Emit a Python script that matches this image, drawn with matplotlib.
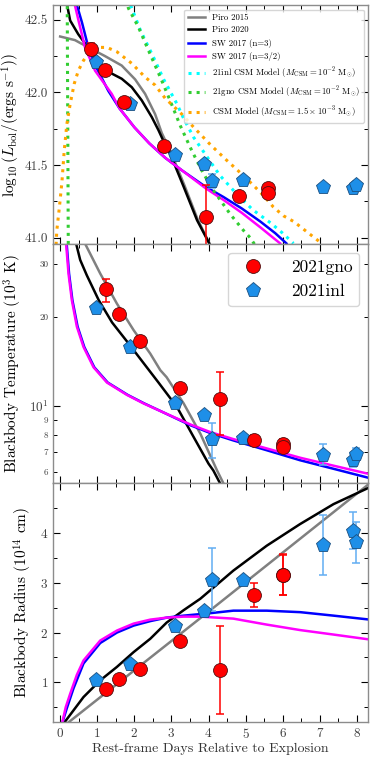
# import packages
import matplotlib
matplotlib.use("Agg")
import matplotlib.pyplot as plt
from matplotlib.ticker import FixedLocator, FixedFormatter, MultipleLocator, FormatStrFormatter

plt.rcParams["font.family"] = "serif"
plt.rcParams["font.serif"] = ["cmr10"]
plt.rcParams["mathtext.fontset"] = "cm"
plt.rcParams["axes.formatter.use_mathtext"] = True
plt.rcParams["axes.unicode_minus"] = False

# ---- observed data: SN 2021gno (red circles) ----
gno_days_lum = [0.84, 1.20, 1.73, 2.81, 3.92, 4.81, 5.60, 5.60]
gno_logL = [42.30, 42.155, 41.935, 41.628, 41.14, 41.284, 41.34, 41.31]
gno_logL_err = [0.04, 0.02, 0.02, 0.02, 0.22, 0.02, 0.02, 0.02]

gno_days = [1.24, 1.59, 2.15, 3.22, 4.31, 5.23, 6.00, 6.00]
gno_T = [24.7, 20.4, 16.6, 11.5, 10.56, 7.71, 7.45, 7.30]
gno_T_lo = [2.3, 0.3, 0.6, 0.3, 2.6, 0.2, 0.15, 0.15]
gno_T_hi = [2.0, 0.3, 0.6, 0.3, 2.5, 0.25, 0.3, 0.2]
gno_R = [0.874, 1.074, 1.26, 1.84, 1.25, 2.757, 3.165, 3.15]
gno_R_err = [0.03, 0.04, 0.05, 0.04, 0.89, 0.24, 0.41, 0.40]

# ---- observed data: SN 2021inl (blue pentagons) ----
inl_days = [0.97, 1.87, 3.10, 3.89, 4.10, 4.93, 7.08, 7.89, 7.98]
inl_logL = [42.21, 41.92, 41.566, 41.509, 41.39, 41.394, 41.35, 41.34, 41.36]
inl_logL_err = [0.01, 0.01, 0.01, 0.01, 0.05, 0.01, 0.01, 0.01, 0.01]
inl_T = [21.3, 15.8, 10.2, 9.36, 7.73, 7.83, 6.82, 6.56, 6.92]
inl_T_lo = [0.3, 0.2, 0.2, 0.2, 1.03, 0.2, 0.5, 0.3, 0.3]
inl_T_hi = [0.3, 0.2, 0.2, 0.2, 1.06, 0.2, 0.65, 0.35, 0.32]
inl_R = [1.054, 1.375, 2.13, 2.43, 3.06, 3.06, 3.76, 4.05, 3.81]
inl_R_err = [0.03, 0.03, 0.04, 0.05, 0.63, 0.05, 0.60, 0.38, 0.42]

# ---- model curves, luminosity panel ----
piro15_L_days = [0.0, 0.40, 0.76, 1.21, 1.66, 2.02, 2.29, 2.56, 2.74, 3.0, 3.35, 3.7, 4.04, 4.1]
piro15_L = [42.385, 42.36, 42.31, 42.25, 42.185, 42.09, 41.99, 41.85, 41.72, 41.58, 41.36, 41.13, 40.95, 40.9]
piro20_L_days = [0.15, 0.27, 0.49, 0.72, 1.03, 1.39, 1.66, 1.93, 2.20, 2.47, 2.65, 2.83, 2.965, 3.33, 3.69, 4.02, 4.08]
piro20_L = [42.65, 42.495, 42.40, 42.32, 42.20, 42.13, 42.094, 42.036, 41.945, 41.83, 41.74, 41.64, 41.578, 41.35, 41.12, 40.96, 40.9]
sw3_L_days = [0.43, 0.59, 0.76, 1.0, 1.3, 1.6, 2.0, 2.4, 2.83, 3.3, 3.92, 4.4, 4.9, 5.4, 5.8, 6.1]
sw3_L = [42.62, 42.48, 42.31, 42.16, 42.01, 41.89, 41.76, 41.65, 41.55, 41.46, 41.35, 41.28, 41.20, 41.11, 41.03, 40.96]
sw32_L_days = [0.38, 0.49, 0.67, 0.94, 1.39, 1.6, 2.0, 2.4, 2.83, 3.3, 3.92, 4.4, 4.9, 5.4, 5.93]
sw32_L = [42.62, 42.50, 42.31, 42.15, 41.99, 41.89, 41.76, 41.65, 41.55, 41.46, 41.34, 41.26, 41.17, 41.07, 40.96]
csm_inl_days = [1.90, 2.16, 2.52, 2.79, 3.15, 3.33, 3.6, 3.87, 4.3, 4.76, 5.2, 5.68, 6.0, 6.29]
csm_inl_L = [42.6, 42.43, 42.24, 42.09, 41.92, 41.82, 41.69, 41.59, 41.43, 41.30, 41.19, 41.10, 41.03, 40.96]
csm_gno_days = [0.22, 0.19, 0.6, 1.5, 1.84, 2.11, 2.38, 2.70, 2.97, 3.24, 3.51, 3.78, 4.09, 4.59, 4.94, 5.12, 5.25]
csm_gno_L = [40.9, 42.65, 43.5, 43.0, 42.58, 42.45, 42.29, 42.105, 41.94, 41.77, 41.62, 41.48, 41.34, 41.16, 41.05, 41.0, 40.95]
csm_days = [-0.11, -0.09, -0.02, 0.05, 0.11, 0.18, 0.27, 0.38, 0.49, 0.63, 0.80, 1.0, 1.26, 1.53,
            1.93, 2.29, 2.56, 2.83, 3.28, 3.6, 4.05, 4.5, 4.8, 5.21, 5.48, 5.75, 6.02, 6.3, 6.6, 7.05]
csm_L = [40.95, 41.05, 41.21, 41.39, 41.6, 41.78, 41.92, 42.06, 42.15, 42.22, 42.28, 42.31, 42.31, 42.28,
         42.20, 42.105, 42.05, 41.96, 41.85, 41.76, 41.64, 41.53, 41.46, 41.36, 41.29, 41.21, 41.15, 41.11, 41.05, 40.96]

# ---- model curves, temperature panel ----
piro15_T_days = [0.4, 0.67, 1.08, 1.53, 1.98, 2.43, 2.70, 2.87, 3.33, 3.78, 4.23, 4.40, 4.45]
piro15_T = [42, 35.2, 27.9, 22.1, 18.0, 15.0, 13.2, 12.5, 10.2, 8.07, 6.07, 5.5, 5.3]
piro20_T_days = [0.30, 0.43, 0.54, 0.72, 1.04, 1.40, 1.80, 2.20, 2.65, 3.15, 3.60, 4.0, 4.13, 4.31, 4.36]
piro20_T = [42, 35.2, 31, 27.5, 22.7, 19.1, 16.5, 14.2, 12.0, 9.92, 7.86, 6.40, 6.07, 5.5, 5.3]
sw3_T_days = [0.12, 0.175, 0.24, 0.33, 0.47, 0.65, 0.92, 1.28, 1.82, 2.27, 2.72, 3.51, 4.05, 4.67, 5.57, 6.47, 7.37, 8.35]
sw3_T = [45, 35.2, 27.9, 22.7, 18.5, 15.8, 13.5, 12.0, 10.9, 10.2, 9.6, 8.62, 8.11, 7.66, 7.10, 6.57, 6.15, 5.72]
sw32_T_days = [0.10, 0.16, 0.225, 0.315, 0.45, 0.63, 0.90, 1.26, 1.80, 2.25, 2.70, 3.51, 4.05, 4.67, 5.57, 6.47, 7.37, 8.35]
sw32_T = [45, 35.2, 27.9, 22.7, 18.5, 15.8, 13.5, 12.0, 10.9, 10.2, 9.62, 8.67, 8.17, 7.74, 7.2, 6.7, 6.3, 5.9]

# ---- model curves, radius panel ----
piro15_R_days = [0.18, 4.0, 8.35]
piro15_R = [0.17, 2.42, 5.0]
piro20_R_days = [0.09, 0.63, 1.08, 1.53, 1.98, 2.43, 2.87, 3.33, 3.78, 4.67, 5.57, 6.47, 7.37, 8.35]
piro20_R = [0.17, 0.705, 1.04, 1.31, 1.607, 1.876, 2.2, 2.45, 2.68, 3.245, 3.745, 4.18, 4.58, 4.92]
sw3_R_days = [0.05, 0.18, 0.36, 0.63, 1.08, 1.53, 1.98, 2.43, 2.87, 3.33, 4.05, 4.67, 5.57, 6.47, 7.37, 8.35]
sw3_R = [0.17, 0.48, 0.88, 1.38, 1.79, 2.0, 2.14, 2.23, 2.30, 2.34, 2.39, 2.44, 2.44, 2.41, 2.34, 2.26]
sw32_R_days = [0.05, 0.15, 0.27, 0.45, 0.63, 1.08, 1.53, 1.98, 2.43, 2.87, 3.33, 3.78, 4.67, 5.57, 6.47, 7.37, 8.35]
sw32_R = [0.17, 0.5, 0.77, 1.15, 1.44, 1.84, 2.04, 2.18, 2.26, 2.30, 2.32, 2.32, 2.28, 2.16, 2.05, 1.96, 1.86]

# labels
model_labels = ["Piro 2015", "Piro 2020", "SW 2017 (n=3)", "SW 2017 (n=3/2)"]
csm_labels = [r"21inl CSM Model ($M_{\rm CSM}=10^{-2}\ {\rm M}_{\odot}$)",
              r"21gno CSM Model ($M_{\rm CSM}=10^{-2}\ {\rm M}_{\odot}$)",
              r"CSM Model ($M_{\rm CSM}=1.5\times10^{-3}\ {\rm M}_{\odot}$)"]
sn_labels = ["2021gno", "2021inl"]
x_ticks = [0, 1, 2, 3, 4, 5, 6, 7, 8]
R_ticks = [1, 2, 3, 4]
T_major = [10]
T_minor = [6, 7, 8, 9, 20, 30]
T_minor_labels = ["6", "7", "8", "9", "20", "30"]

RED = "red"
BLUE = "#1e8fe8"
BLUE_ERR = "#62adf2"
LW = 1.8


def style_axis(ax):
    ax.tick_params(which="both", direction="in", top=True, right=True,
                   labelcolor="0.25", color="black")
    ax.tick_params(which="major", length=5, width=0.8, labelsize=9.5)
    ax.tick_params(which="minor", length=3, width=0.7)
    for s in ax.spines.values():
        s.set_color("0.55")
        s.set_linewidth(1.0)


def draw_models(ax, curves):
    colors = ["gray", "black", "blue", "magenta"]
    handles = []
    for (xs, ys), c, lab in zip(curves, colors, model_labels):
        h, = ax.plot(xs, ys, color=c, lw=LW, label=lab)
        handles.append(h)
    return handles


def draw_data(ax, y_gno, e_gno, y_inl, e_inl, x_gno):
    ax.errorbar(inl_days, y_inl, yerr=e_inl, fmt="none", ecolor=BLUE_ERR,
                elinewidth=1.1, capsize=3, capthick=1.1, zorder=5)
    h2, = ax.plot(inl_days, y_inl, "p", mfc=BLUE, mec="#1a4f80", mew=0.6, ms=11,
                  zorder=6, label=sn_labels[1])
    ax.errorbar(x_gno, y_gno, yerr=e_gno, fmt="none", ecolor=RED,
                elinewidth=1.1, capsize=3, capthick=1.1, zorder=7)
    h1, = ax.plot(x_gno, y_gno, "o", mfc=RED, mec="#501010", mew=0.6, ms=10,
                  zorder=8, label=sn_labels[0])
    return h1, h2


fig, axes = plt.subplots(3, 1, figsize=(3.74, 7.57), dpi=100, sharex=True)
fig.subplots_adjust(left=0.142, right=0.984, top=0.993, bottom=0.046, hspace=0)
ax1, ax2, ax3 = axes

# luminosity panel
hm = draw_models(ax1, [(piro15_L_days, piro15_L), (piro20_L_days, piro20_L),
                       (sw3_L_days, sw3_L), (sw32_L_days, sw32_L)])
hc = []
for xs, ys, c, lab in zip([csm_inl_days, csm_gno_days, csm_days],
                          [csm_inl_L, csm_gno_L, csm_L],
                          ["cyan", "limegreen", "orange"], csm_labels):
    h, = ax1.plot(xs, ys, color=c, lw=2.2, ls=":", label=lab)
    hc.append(h)
draw_data(ax1, gno_logL, gno_logL_err, inl_logL, inl_logL_err, gno_days_lum)
ax1.set_ylim(40.954, 42.6)
ax1.yaxis.set_major_locator(MultipleLocator(0.5))
ax1.yaxis.set_minor_locator(MultipleLocator(0.25))
ax1.yaxis.set_major_formatter(FormatStrFormatter("%.1f"))
ax1.set_ylabel(r"$\log_{10}(L_{\rm bol}/({\rm ergs\ s^{-1}}))$", fontsize=11, labelpad=2)
ax1.legend(handles=hm + hc, loc="upper right", fontsize=6.3, labelspacing=0.5)

# temperature panel
draw_models(ax2, [(piro15_T_days, piro15_T), (piro20_T_days, piro20_T),
                  (sw3_T_days, sw3_T), (sw32_T_days, sw32_T)])
h1, h2 = draw_data(ax2, gno_T, [gno_T_lo, gno_T_hi], inl_T, [inl_T_lo, inl_T_hi], gno_days)
ax2.set_yscale("log")
ax2.set_ylim(5.5, 35)
ax2.yaxis.set_major_locator(FixedLocator(T_major))
ax2.yaxis.set_major_formatter(FixedFormatter([r"$10^{1}$"]))
ax2.yaxis.set_minor_locator(FixedLocator(T_minor))
ax2.yaxis.set_minor_formatter(FixedFormatter(T_minor_labels))
ax2.set_ylabel(r"Blackbody Temperature ($10^3$ K)", fontsize=11, labelpad=3)
ax2.legend(handles=[h1, h2], loc="upper right", fontsize=12.5, handletextpad=1.2)

# radius panel
draw_models(ax3, [(piro15_R_days, piro15_R), (piro20_R_days, piro20_R),
                  (sw3_R_days, sw3_R), (sw32_R_days, sw32_R)])
draw_data(ax3, gno_R, gno_R_err, inl_R, inl_R_err, gno_days)
ax3.set_ylim(0.2, 5.0)
ax3.yaxis.set_major_locator(FixedLocator(R_ticks))
ax3.yaxis.set_minor_locator(MultipleLocator(0.5))
ax3.set_ylabel(r"Blackbody Radius ($10^{14}$ cm)", fontsize=11, labelpad=4)
ax3.set_xlabel("Rest-frame Days Relative to Explosion", fontsize=10, color="0.2", labelpad=1)

ax3.set_xlim(-0.19, 8.3)
ax3.set_xticks(x_ticks)
ax3.xaxis.set_minor_locator(MultipleLocator(0.5))

for ax in axes:
    style_axis(ax)
ax2.tick_params(which="minor", labelsize=6.5, length=3)

fig.savefig("out.png", dpi=100)
